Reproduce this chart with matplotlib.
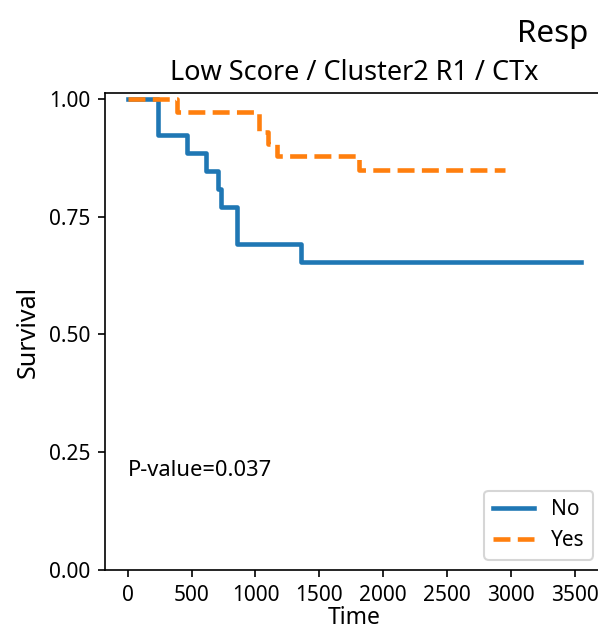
import matplotlib
matplotlib.use("Agg")
import matplotlib.pyplot as plt

plt.rcParams['font.family'] = ['Noto Sans', 'DejaVu Sans']

# Kaplan-Meier steps
t_no = [0, 239, 466, 617, 708, 734, 856, 1359, 3547]
s_no = [1.0, 0.923, 0.885, 0.846, 0.808, 0.770, 0.692, 0.653, 0.653]

t_yes = [0, 383, 1030, 1100, 1165, 1807, 2955]
s_yes = [1.0, 0.972, 0.930, 0.905, 0.879, 0.850, 0.850]

groups = ["No", "Yes"]
title = "Low Score / Cluster2 R1 / CTx"
pval = 0.037

fig = plt.figure(figsize=(598/150, 630/150), dpi=150)
# axes runs past the right edge, the reference is a crop of a wider figure
ax = fig.add_axes([105/598, 1-570/630, 498.5/598, 477/630])

ax.step(t_no, s_no, where='post', lw=2.2, color='#1f77b4', label=groups[0])
ax.step(t_yes, s_yes, where='post', lw=2.2, ls='--', color='#ff7f0e', label=groups[1])

ax.set_ylim(0, 1.0125)
ax.set_yticks([0, 0.25, 0.5, 0.75, 1.0])
ax.set_xticks(range(0, 4000, 500))
ax.set_xlabel("Time", fontsize=11, labelpad=0)
ax.set_ylabel("Survival", fontsize=12)
ax.set_title(title, fontsize=13)
ax.text(0, 0.2, "P-value=%.3f" % pval, fontsize=10.5)
ax.legend(loc='lower right')

fig.text(517/598, 1-42/630, "Resp", fontsize=15, fontweight='light',
         ha='left', va='baseline')

plt.savefig('out.png', dpi=150)
